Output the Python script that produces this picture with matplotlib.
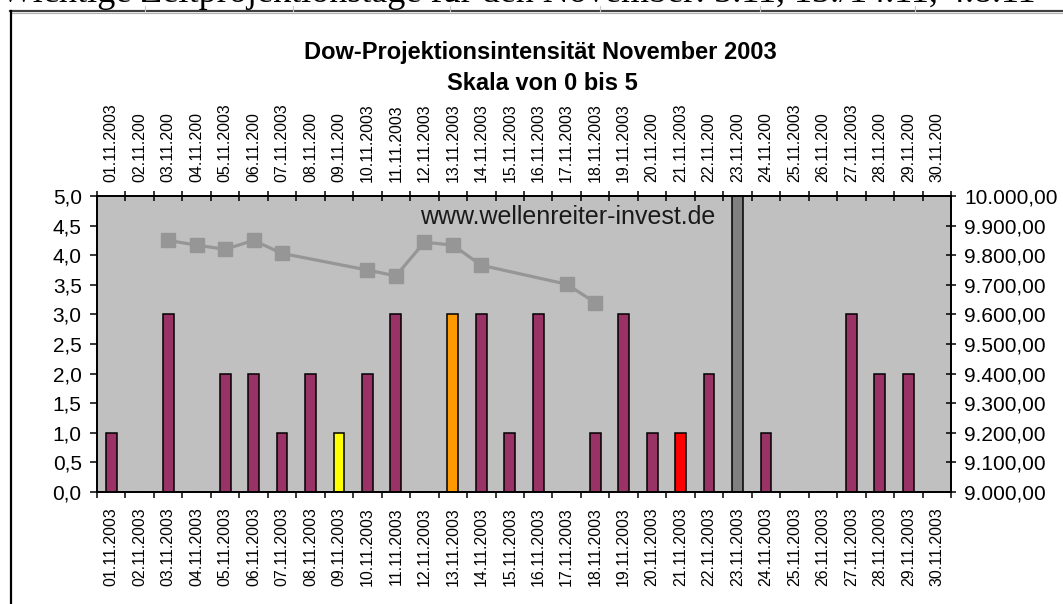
import numpy as np
import matplotlib
matplotlib.use("Agg")
import matplotlib.pyplot as plt
from matplotlib.lines import Line2D
from matplotlib.ticker import FuncFormatter, FixedLocator

# ---------------- data ----------------
days = list(range(1, 31))
bottom_labels = [f"{d:02d}.11.2003" for d in days]
top_labels = ["01.11.2003", "02.11.200", "03.11.200", "04.11.200", "05.11.2003",
              "06.11.200", "07.11.2003", "08.11.200", "09.11.200", "10.11.2003",
              "11.11.2003", "12.11.2003", "13.11.2003", "14.11.2003", "15.11.2003",
              "16.11.2003", "17.11.2003", "18.11.2003", "19.11.2003", "20.11.200",
              "21.11.2003", "22.11.200", "23.11.200", "24.11.200", "25.11.2003",
              "26.11.200", "27.11.2003", "28.11.200", "29.11.200", "30.11.200"]
intensity = [1, 0, 3, 0, 2, 2, 1, 2, 1, 2,
             3, 0, 3, 3, 1, 3, 0, 1, 3, 1,
             1, 2, 5, 1, 0, 0, 3, 2, 2, 0]
bar_colors = ["#993366"] * 30
bar_colors[8] = "#FFFF00"   # 09.11
bar_colors[12] = "#FF9900"  # 13.11
bar_colors[20] = "#FF0000"  # 21.11
bar_colors[22] = "#808080"  # 23.11

dow_days = [3, 4, 5, 6, 7, 10, 11, 12, 13, 14, 17, 18]
dow_values = [9850, 9834, 9820, 9850, 9806, 9750, 9730, 9844, 9834, 9766, 9702, 9640]

page_text = "Wichtige Zeitprojektionstage für den November: 3.11, 13./14.11, 4.8.11"

# ---------------- figure ----------------
W, H = 1063, 604
fig = plt.figure(figsize=(W / 100, H / 100), dpi=100)
fig.patch.set_facecolor("white")
SANS = ["Liberation Sans", "DejaVu Sans"]

def px(x, y):
    return x / W, 1 - y / H

# page decoration: clipped text line at top, frame lines
fig.text(0.0, 1 - 2.5 / H, page_text,
         family=["Liberation Serif", "DejaVu Serif"], fontsize=26, va="baseline", ha="left")
fig.add_artist(Line2D([px(10, 0)[0], 1], [px(0, 11.2)[1]] * 2, color="#404040", lw=1.6,
                      transform=fig.transFigure))
fig.add_artist(Line2D([px(10, 0)[0], 1], [px(0, 12.8)[1]] * 2, color="#b0b0b0", lw=0.8,
                      transform=fig.transFigure))
fig.add_artist(Line2D([px(11, 0)[0]] * 2, [px(0, 11)[1], 0], color="black", lw=1.6,
                      transform=fig.transFigure))
for xr in [145, 293, 450, 600, 760, 915]:
    fig.add_artist(Line2D([px(xr, 0)[0]] * 2, [px(0, 6)[1], px(0, 10.5)[1]],
                          color="#c8c8c8", lw=0.8, transform=fig.transFigure))

# axes
x0, x1 = 97, 951
y0, y1 = 196, 492
ax = fig.add_axes([x0 / W, 1 - y1 / H, (x1 - x0) / W, (y1 - y0) / H])
ax.set_facecolor("#C0C0C0")

ax.bar(days, intensity, width=0.38, color=bar_colors, edgecolor="black",
       linewidth=1.1, zorder=3)
ax.set_xlim(0.5, 30.5)
ax.set_ylim(0, 5)
ax.set_yticks(np.arange(0, 5.01, 0.5))
ax.yaxis.set_major_formatter(FuncFormatter(lambda v, p: f"{v:.1f}".replace(".", ",")))

# bottom category axis: ticks at boundaries, labels at centers
ax.xaxis.set_major_locator(FixedLocator(np.arange(0.5, 31, 1)))
ax.xaxis.set_minor_locator(FixedLocator(days))
ax.set_xticklabels([])
ax.set_xticklabels(bottom_labels, minor=True, rotation=90, family=SANS, fontsize=11.5)
ax.tick_params(axis="x", which="major", direction="out", length=4.5, width=1.1, color="black")
ax.tick_params(axis="x", which="minor", length=0, pad=11)
ax.tick_params(axis="y", direction="out", length=5, width=1.1, pad=6, labelsize=15)
for lab in ax.get_yticklabels():
    lab.set_family(SANS)

for s in ax.spines.values():
    s.set_linewidth(1.1)
    s.set_color("black")

# watermark
fig.text(px(568, 0)[0], px(0, 217)[1], "www.wellenreiter-invest.de", family=SANS,
         fontsize=18, color="#1a1a1a", ha="center", va="center", zorder=10)

# secondary value axis (Dow)
ax2 = ax.twinx()
ax2.plot(dow_days, dow_values, color="#969696", lw=2.3, marker="s", markersize=10.5,
         markerfacecolor="#969696", markeredgecolor="#969696", zorder=4)
ax2.set_ylim(9000, 10000)
ax2.set_yticks(np.arange(9000, 10001, 100))

def de_fmt(v, p):
    s = f"{v:,.2f}"
    return s.replace(",", "X").replace(".", ",").replace("X", ".")

ax2.yaxis.set_major_formatter(FuncFormatter(de_fmt))
ax2.tick_params(axis="y", direction="inout", length=7, width=1.1, pad=6, labelsize=15)
for lab in ax2.get_yticklabels():
    lab.set_family(SANS)
for s in ax2.spines.values():
    s.set_linewidth(1.1)

# secondary category axis on top
ax3 = ax.twiny()
ax3.set_xlim(0.5, 30.5)
ax3.xaxis.set_major_locator(FixedLocator(np.arange(0.5, 31, 1)))
ax3.xaxis.set_minor_locator(FixedLocator(days))
ax3.set_xticklabels([])
ax3.set_xticklabels(top_labels, minor=True, rotation=90, family=SANS, fontsize=11.5)
ax3.tick_params(axis="x", which="major", direction="inout", length=7, width=1.1)
ax3.tick_params(axis="x", which="minor", length=0, pad=10)
for s in ax3.spines.values():
    s.set_linewidth(1.1)

# titles
fig.text(px(540, 0)[0], px(0, 52)[1], "Dow-Projektionsintensität November 2003",
         family=SANS, weight="bold", fontsize=17, ha="center", va="center")
fig.text(px(542, 0)[0], px(0, 83)[1], "Skala von 0 bis 5",
         family=SANS, weight="bold", fontsize=17, ha="center", va="center")

fig.savefig("out.png", dpi=100, facecolor="white")
